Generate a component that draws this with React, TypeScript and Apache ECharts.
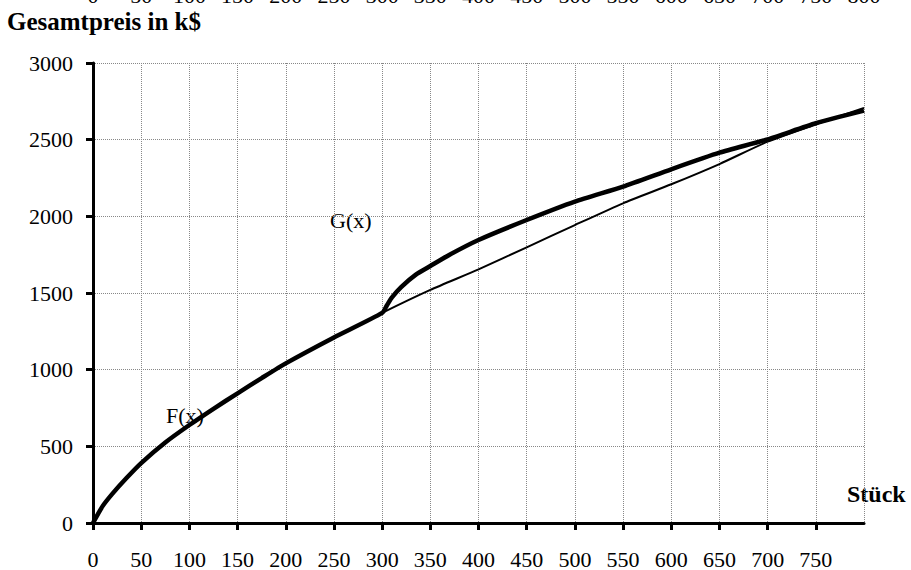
import React, { useEffect, useRef } from "react";
import * as echarts from "echarts";

const xTicks = [0, 800, 50];
const yTicks = [0, 3000, 500];

const fX = [0, 10, 20, 35, 50, 75, 100, 125, 150, 175, 200, 250, 300, 350, 400, 450, 500, 550, 600, 650, 700, 750, 800];
const fY = [0, 110, 190, 295, 391, 525, 639, 745, 846, 945, 1041, 1210, 1370, 1520, 1654, 1798, 1943, 2085, 2209, 2341, 2487, 2600, 2707];

const gX = [0, 10, 20, 35, 50, 75, 100, 125, 150, 175, 200, 250, 300, 305, 310, 320, 335, 350, 370, 400, 450, 500, 550, 600, 650, 700, 750, 800];
const gY = [0, 110, 190, 295, 391, 525, 639, 745, 846, 945, 1041, 1210, 1370, 1420, 1470, 1540, 1620, 1676, 1750, 1846, 1976, 2096, 2194, 2307, 2415, 2502, 2607, 2689];

const FONT = "'Liberation Serif', 'Times New Roman', serif";

export default function App() {
  const ref = useRef<HTMLDivElement>(null);
  useEffect(() => {
    document.body.style.margin = "0";
    const chart = echarts.init(ref.current!, undefined, { renderer: "svg" });
    const axisCommon = {
      type: "value" as const,
      min: xTicks[0],
      max: xTicks[1],
      interval: xTicks[2],
    };
    const plain = (v: number) => String(v);
    chart.setOption({
      animation: false,
      backgroundColor: "#fff",
      title: {
        text: "Gesamtpreis in k$",
        left: 7,
        top: 9,
        padding: 0,
        textStyle: { fontFamily: FONT, fontSize: 25, fontWeight: "bold", color: "#000" },
      },
      grid: { left: 93, right: 47, top: 63, bottom: 47, containLabel: false, outerBoundsMode: "none" },
      xAxis: [
        {
          ...axisCommon,
          position: "bottom",
          axisLine: { show: true, onZero: false, lineStyle: { color: "#000", width: 3 } },
          axisTick: { show: true, length: 7, lineStyle: { color: "#000", width: 3 } },
          axisLabel: {
            margin: 25,
            showMaxLabel: false,
            color: "#000",
            fontFamily: FONT,
            fontSize: 22,
            formatter: plain,
          },
          splitLine: { show: true, lineStyle: { type: "dotted", color: "#888", width: 1 } },
        },
        {
          ...axisCommon,
          position: "top",
          axisLine: { show: false },
          axisTick: { show: false },
          splitLine: { show: false },
          axisLabel: {
            margin: 57,
            color: "#000",
            fontFamily: FONT,
            fontSize: 22,
            showMaxLabel: true,
            formatter: plain,
          },
        },
      ],
      yAxis: {
        type: "value",
        min: yTicks[0],
        max: yTicks[1],
        interval: yTicks[2],
        axisLine: { show: true, onZero: false, lineStyle: { color: "#000", width: 3 } },
        axisTick: { show: true, length: 7, lineStyle: { color: "#000", width: 3 } },
        axisLabel: { margin: 20, color: "#000", fontFamily: FONT, fontSize: 22, formatter: plain },
        splitLine: { show: true, lineStyle: { type: "dotted", color: "#888", width: 1 } },
      },
      graphic: [
        {
          type: "text",
          left: 847,
          top: 482,
          style: { text: "Stück", fontFamily: FONT, fontSize: 24, fontWeight: "bold", fill: "#000" },
        },
        {
          type: "text",
          left: 330,
          top: 209,
          style: { text: "G(x)", fontFamily: FONT, fontSize: 22, fill: "#000" },
        },
        {
          type: "text",
          left: 166,
          top: 404,
          style: { text: "F(x)", fontFamily: FONT, fontSize: 22, fill: "#000" },
        },
      ],
      series: [
        {
          name: "F(x)",
          type: "line",
          xAxisIndex: 0,
          data: fX.map((x, i) => [x, fY[i]]),
          showSymbol: false,
          smooth: 0.2,
          lineStyle: { color: "#000", width: 2 },
          z: 3,
        },
        {
          name: "G(x)",
          type: "line",
          xAxisIndex: 0,
          data: gX.map((x, i) => [x, gY[i]]),
          showSymbol: false,
          smooth: 0.2,
          lineStyle: { color: "#000", width: 4.5 },
          z: 4,
        },
      ],
    });
    return () => chart.dispose();
  }, []);
  return <div ref={ref} style={{ width: 911, height: 570 }} />;
}
